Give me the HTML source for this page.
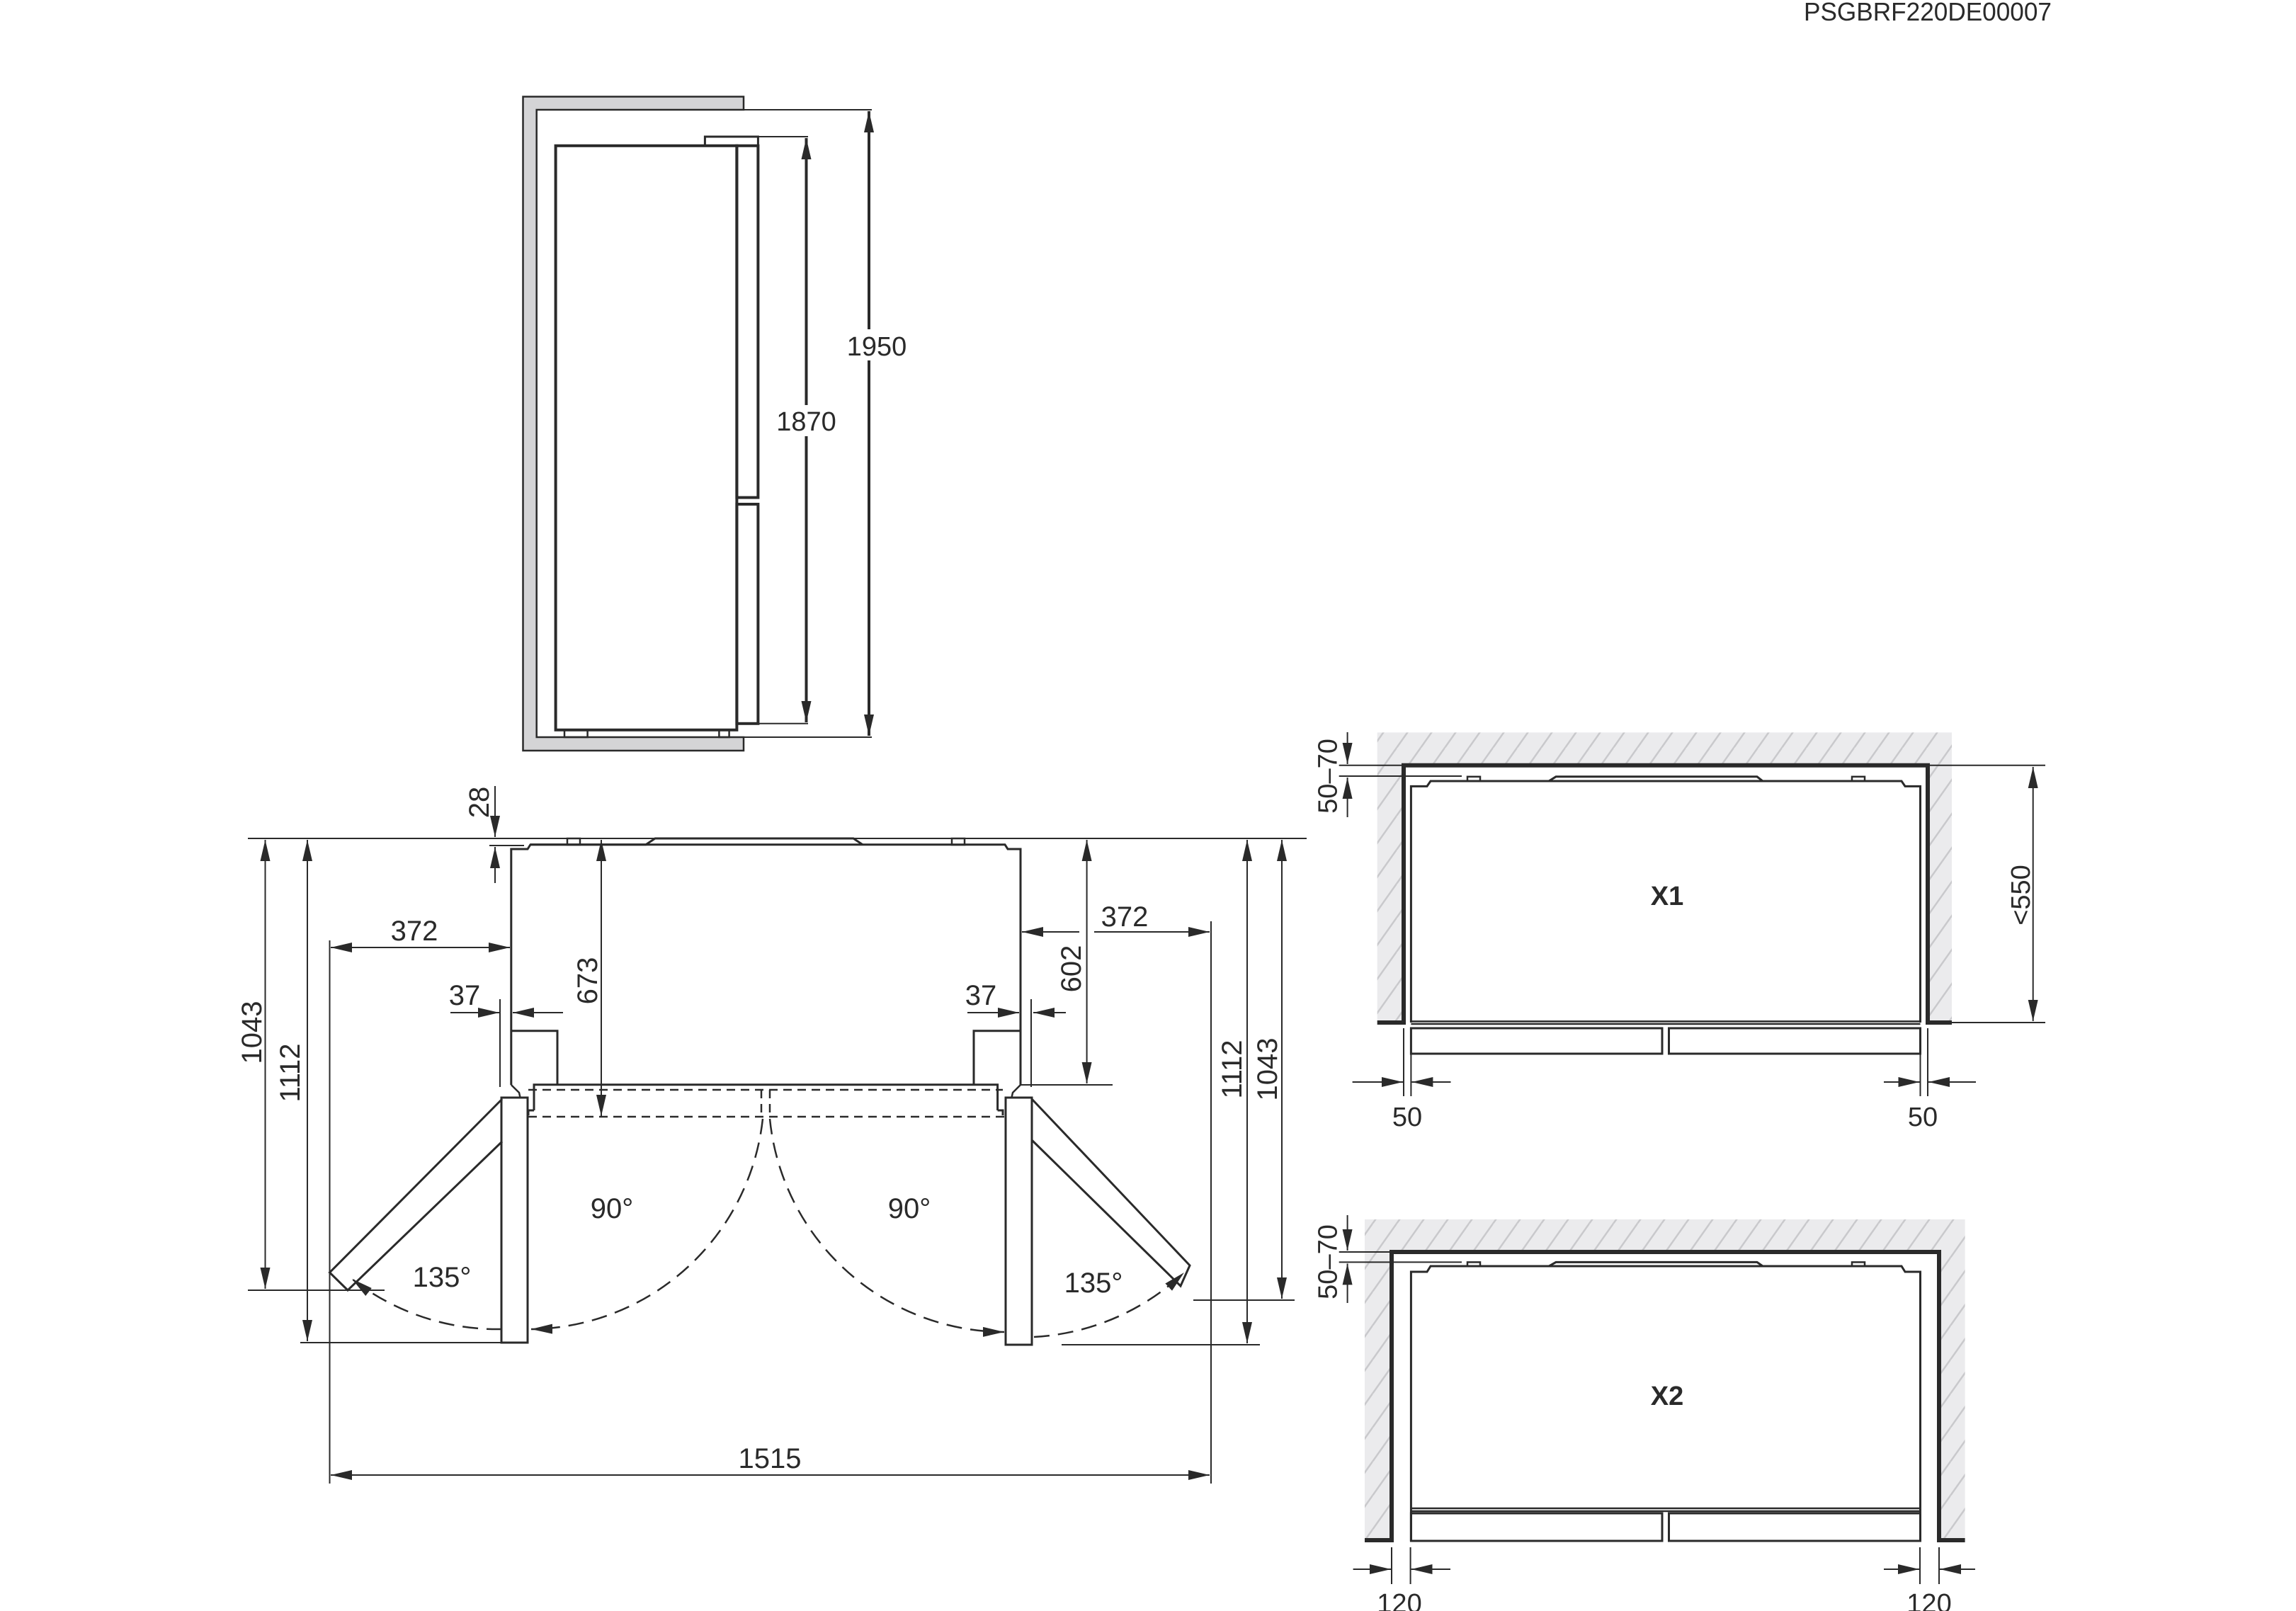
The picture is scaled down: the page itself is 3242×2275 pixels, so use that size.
<!DOCTYPE html>
<html><head><meta charset="utf-8"><style>
html,body{margin:0;padding:0;background:#fff;}
svg{display:block;}
text{font-family:"Liberation Sans",sans-serif;fill:#2a2a2a;}
.n{font-family:"Liberation Sans Narrow","Liberation Sans",sans-serif;}
</style></head><body>
<svg width="3242" height="2275" viewBox="0 0 3242 2275" xmlns="http://www.w3.org/2000/svg">
<defs>
<marker id="a" markerUnits="userSpaceOnUse" markerWidth="32" markerHeight="14" refX="30" refY="7" orient="auto-start-reverse"><path d="M0,0 L30,7 L0,14 Z" fill="#2a2a2a"/></marker>
<pattern id="h" patternUnits="userSpaceOnUse" width="34" height="48"><rect width="34" height="48" fill="#ebebed"/><path d="M-17,72 L34,0 M17,72 L68,0 M-51,72 L0,0 M-34,48 L0,0" stroke="#c9c9cc" stroke-width="2.5" fill="none"/></pattern>
</defs>
<g stroke="#2a2a2a" fill="none" stroke-width="2.5">

<text x="2547" y="29" font-size="36" stroke="none" textLength="350" lengthAdjust="spacingAndGlyphs">PSGBRF220DE00007</text>

<path d="M1050,136.5 H738.5 V1060 H1050 V1041 H757.7 V155 H1050 Z" fill="#d4d4d6" stroke-width="2.5"/>
<rect x="784.6" y="205.8" width="255.8" height="825" stroke-width="4"/>
<rect x="1040.4" y="205.8" width="30" height="496.8" stroke-width="4"/>
<rect x="1040.4" y="712" width="30" height="309.8" stroke-width="4"/>
<rect x="995.4" y="193" width="75" height="12.8" stroke-width="3"/>
<rect x="797" y="1030.8" width="32.6" height="10.2" stroke-width="2.5"/>
<rect x="1015.4" y="1030.8" width="14.2" height="10.2" stroke-width="2.5"/>
<path d="M1070.4,193 H1141 M1070.4,1021.8 H1141 M1050,155 H1231 M1050,1041 H1231" stroke-width="2"/>
<line x1="1138.5" y1="195" x2="1138.5" y2="1020" stroke-width="4" marker-start="url(#a)" marker-end="url(#a)"/>
<line x1="1227" y1="157" x2="1227" y2="1039" stroke-width="4" marker-start="url(#a)" marker-end="url(#a)"/>
<rect x="1170" y="465" width="120" height="44" fill="#fff" stroke="none"/>
<text x="1238" y="502" font-size="38" text-anchor="middle" stroke="none">1950</text>
<rect x="1085" y="572" width="110" height="44" fill="#fff" stroke="none"/>
<text x="1138.5" y="608" font-size="38" text-anchor="middle" stroke="none">1870</text>

<path d="M350,1184 H1845" stroke-width="2"/>
<path d="M721.8,1532 V1199 H745 L749,1192.7 H1419 L1423,1199 H1441 V1532" stroke-width="3"/>
<path d="M749,1192.7 L912,1192.7 L925,1184 H1205 L1218,1192.7" stroke-width="3"/>
<rect x="801" y="1184" width="18" height="9" stroke-width="2.5"/>
<rect x="1344" y="1184" width="18" height="9" stroke-width="2.5"/>
<path d="M721.8,1455.7 H787 V1532 M1441,1455.7 H1375 V1532" stroke-width="3"/>
<path d="M721.8,1532 L733,1543 L735,1552 M1441,1532 L1430,1543 L1428,1552" stroke-width="2.5"/>
<path d="M754,1568 V1531.7 H1408.6 V1568 M754,1568 H746 V1575 M1408.6,1568 H1416 V1575" stroke-width="3"/>
<path d="M746,1539 H1416 M746,1577 H1420 M1075,1539 V1577 M1087,1539 V1577" stroke-width="2.5" stroke-dasharray="12,8"/>
<rect x="708" y="1550" width="37" height="346" stroke-width="3" fill="#fff"/>
<rect x="1420" y="1550" width="37" height="349" stroke-width="3" fill="#fff"/>
<path d="M709,1552 L465.5,1797 L491,1822 L709,1612" stroke-width="3"/>
<path d="M1457,1552 L1680,1787 L1667,1816 L1457,1610" stroke-width="3"/>
<path d="M1077,1580 A333,333 0 0,1 750,1877" stroke-width="2.5" stroke-dasharray="22,12" marker-end="url(#a)"/>
<path d="M709,1877 A333,333 0 0,1 497,1806" stroke-width="2.5" stroke-dasharray="22,12" marker-end="url(#a)"/>
<path d="M1087,1580 A334,334 0 0,0 1418,1881" stroke-width="2.5" stroke-dasharray="22,12" marker-end="url(#a)"/>
<path d="M1460,1888 A335,335 0 0,0 1672,1797" stroke-width="2.5" stroke-dasharray="22,12" marker-end="url(#a)"/>
<line x1="374.5" y1="1186" x2="374.5" y2="1820" stroke-width="2" marker-start="url(#a)" marker-end="url(#a)"/>
<line x1="434" y1="1186" x2="434" y2="1894" stroke-width="2" marker-start="url(#a)" marker-end="url(#a)"/>
<path d="M350,1822 H543 M424,1896 H745" stroke-width="2"/>
<line x1="1761" y1="1186" x2="1761" y2="1897" stroke-width="2" marker-start="url(#a)" marker-end="url(#a)"/>
<line x1="1810" y1="1186" x2="1810" y2="1834" stroke-width="2" marker-start="url(#a)" marker-end="url(#a)"/>
<path d="M1499,1899 H1779 M1685,1836 H1828" stroke-width="2"/>
<path d="M465.5,1328 V2095 M1710,1301 V2095" stroke-width="2"/>
<line x1="467" y1="1338" x2="720" y2="1338" stroke-width="2" marker-start="url(#a)" marker-end="url(#a)"/>
<path d="M1524,1316 H1443" stroke-width="2" marker-end="url(#a)"/>
<path d="M1545,1316 H1708" stroke-width="2" marker-end="url(#a)"/>
<line x1="467" y1="2083" x2="1708" y2="2083" stroke-width="2" marker-start="url(#a)" marker-end="url(#a)"/>
<line x1="849" y1="1186" x2="849" y2="1576" stroke-width="2" marker-start="url(#a)" marker-end="url(#a)"/>
<line x1="1534.6" y1="1186" x2="1534.6" y2="1530" stroke-width="2" marker-start="url(#a)" marker-end="url(#a)"/>
<path d="M1441,1532 H1571" stroke-width="2"/>
<path d="M699,1110 V1182" stroke-width="2" marker-end="url(#a)"/>
<path d="M699,1247 V1196" stroke-width="2" marker-end="url(#a)"/>
<path d="M691,1194 H740" stroke-width="2"/>
<path d="M636,1430 H705" stroke-width="2" marker-end="url(#a)"/>
<path d="M795,1430 H724" stroke-width="2" marker-end="url(#a)"/>
<path d="M1366,1430 H1439" stroke-width="2" marker-end="url(#a)"/>
<path d="M1505,1430 H1459" stroke-width="2" marker-end="url(#a)"/>
<path d="M706,1411 V1535 M1456,1411 V1535" stroke-width="2"/>
<g stroke="none" font-size="40" text-anchor="middle" class="n">
<text class="n" transform="translate(355,1458) rotate(-90)" dy="14" font-family="Liberation Sans">1043</text>
<text class="n" transform="translate(409,1515) rotate(-90)" dy="14">1112</text>
<text class="n" transform="translate(1739,1510) rotate(-90)" dy="14">1112</text>
<text class="n" transform="translate(1789,1510) rotate(-90)" dy="14" font-family="Liberation Sans">1043</text>
<text class="n" transform="translate(829,1385) rotate(-90)" dy="14" font-family="Liberation Sans">673</text>
<text class="n" transform="translate(1512,1368) rotate(-90)" dy="14" font-family="Liberation Sans">602</text>
<text class="n" transform="translate(676,1133) rotate(-90)" dy="14" font-family="Liberation Sans">28</text>
<text class="n" x="585" y="1328">372</text>
<text class="n" x="1588" y="1308">372</text>
<text class="n" x="656" y="1419">37</text>
<text class="n" x="1385" y="1419">37</text>
<text class="n" x="1087" y="2073">1515</text>
<text class="n" x="864" y="1720">90°</text>
<text class="n" x="1284" y="1720">90°</text>
<text class="n" x="624" y="1817">135°</text>
<text class="n" x="1544" y="1825">135°</text>
</g>

<path d="M1944.7,1034.4 H2756 V1444 H2722 V1080.8 H1982 V1444 H1944.7 Z" fill="url(#h)" stroke="none"/>
<path d="M1944.7,1444 H1982 V1080.8 H2722 V1444 H2756" stroke-width="6"/>
<path d="M1992.4,1444 V1110.4 H2015 L2020,1103 H2685 L2690,1110.4 H2711.5 V1444" stroke-width="3"/>
<path d="M2187,1103 L2197,1096.8 H2481 L2489,1103" stroke-width="3"/>
<rect x="2072" y="1096.8" width="18" height="6.2" stroke-width="2.5"/>
<rect x="2615" y="1096.8" width="18" height="6.2" stroke-width="2.5"/>
<path d="M1992.4,1442.4 H2711.5 M1992.4,1446 H2711.5" stroke-width="2.5"/>
<rect x="1992.4" y="1452" width="354.6" height="36" stroke-width="3"/>
<rect x="2356.5" y="1452" width="355" height="36" stroke-width="3"/>
<path d="M1890.7,1080.8 H1982 M1890.7,1096 H2064" stroke-width="2"/>
<path d="M1902.6,1034 V1079" stroke-width="2" marker-end="url(#a)"/>
<path d="M1902.6,1154 V1098" stroke-width="2" marker-end="url(#a)"/>
<path d="M2722,1080.8 H2888 M2756,1444 H2888" stroke-width="2"/>
<line x1="2870.7" y1="1083" x2="2870.7" y2="1442" stroke-width="2" marker-start="url(#a)" marker-end="url(#a)"/>
<path d="M1982,1452 V1548 M1992.4,1452 V1548 M2711.5,1452 V1548 M2722,1452 V1548" stroke-width="2"/>
<path d="M1909.6,1528 H1981" stroke-width="2" marker-end="url(#a)"/>
<path d="M2048.5,1528 H1993.4" stroke-width="2" marker-end="url(#a)"/>
<path d="M2660,1528 H2710.5" stroke-width="2" marker-end="url(#a)"/>
<path d="M2790,1528 H2723" stroke-width="2" marker-end="url(#a)"/>
<g stroke="none" font-size="38" text-anchor="middle">
<text transform="translate(1874.5,1096) rotate(-90)" dy="13">50–70</text>
<text transform="translate(2853,1264) rotate(-90)" dy="13">&lt;550</text>
<text x="1987" y="1590">50</text>
<text x="2715" y="1590">50</text>
<text x="2354" y="1278" font-weight="bold" font-size="38">X1</text>
</g>

<path d="M1927,1722 H2774.6 V2175 H2738 V1768 H1965 V2175 H1927 Z" fill="url(#h)" stroke="none"/>
<path d="M1927,2175 H1965 V1768 H2738 V2175 H2774.6" stroke-width="6"/>
<path d="M1992.4,2176 V1796 H2015 L2020,1788 H2685 L2690,1796 H2711.5 V2176" stroke-width="3"/>
<path d="M2187,1788 L2197,1782.4 H2481 L2489,1788" stroke-width="3"/>
<rect x="2072" y="1782.4" width="18" height="5.6" stroke-width="2.5"/>
<rect x="2615" y="1782.4" width="18" height="5.6" stroke-width="2.5"/>
<path d="M1992.4,2130 H2711.5 M1992.4,2134 H2711.5" stroke-width="2.5"/>
<rect x="1992.4" y="2137" width="354.6" height="39" stroke-width="3"/>
<rect x="2356.5" y="2137" width="355" height="39" stroke-width="3"/>
<path d="M1890.7,1768 H1965 M1890.7,1782.4 H2064" stroke-width="2"/>
<path d="M1902.6,1716 V1766" stroke-width="2" marker-end="url(#a)"/>
<path d="M1902.6,1840 V1784.4" stroke-width="2" marker-end="url(#a)"/>
<path d="M1965,2185 V2237 M1991.6,2185 V2237 M2711,2185 V2237 M2738,2185 V2237" stroke-width="2"/>
<path d="M1910.6,2216 H1964" stroke-width="2" marker-end="url(#a)"/>
<path d="M2048,2216 H1992.6" stroke-width="2" marker-end="url(#a)"/>
<path d="M2660,2216 H2710" stroke-width="2" marker-end="url(#a)"/>
<path d="M2789,2216 H2739" stroke-width="2" marker-end="url(#a)"/>
<g stroke="none" font-size="38" text-anchor="middle">
<text transform="translate(1874.5,1782) rotate(-90)" dy="13">50–70</text>
<text x="1976" y="2277">120</text>
<text x="2724" y="2277">120</text>
<text x="2354" y="1984" font-weight="bold" font-size="38">X2</text>
</g>
</g>
</svg>
</body></html>
